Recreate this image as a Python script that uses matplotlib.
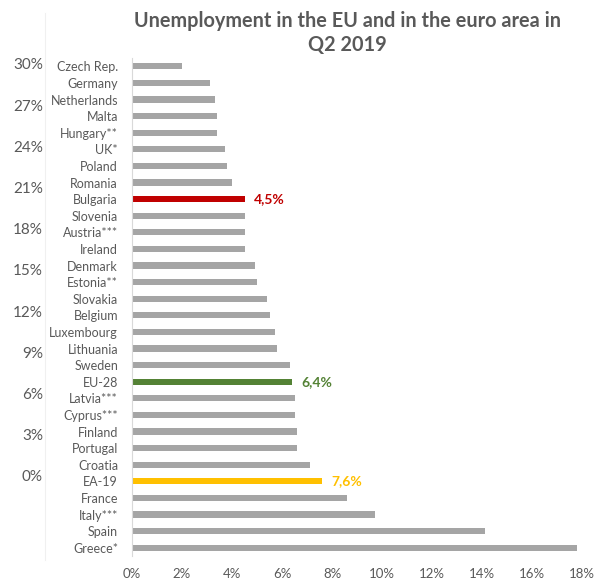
import matplotlib
matplotlib.use("Agg")
import matplotlib.pyplot as plt
from matplotlib.ticker import FuncFormatter, MultipleLocator

plt.rcParams['font.family'] = ['Lato', 'DejaVu Sans']

countries = ["Czech Rep.", "Germany", "Netherlands", "Malta", "Hungary**", "UK*",
             "Poland", "Romania", "Bulgaria", "Slovenia", "Austria***", "Ireland",
             "Denmark", "Estonia**", "Slovakia", "Belgium", "Luxembourg", "Lithuania",
             "Sweden", "EU-28", "Latvia***", "Cyprus***", "Finland", "Portugal",
             "Croatia", "EA-19", "France", "Italy***", "Spain", "Greece*"]
rates = [2.0, 3.1, 3.3, 3.4, 3.4, 3.7, 3.8, 4.0, 4.5, 4.5, 4.5, 4.5, 4.9, 5.0,
         5.4, 5.5, 5.7, 5.8, 6.3, 6.4, 6.5, 6.5, 6.6, 6.6, 7.1, 7.6, 8.6, 9.7,
         14.1, 17.8]
highlight = {"Bulgaria": "#C00000", "EU-28": "#548235", "EA-19": "#FFC000"}
bar_grey = "#A5A5A5"
text_grey = "#595959"

W, H = 597, 582
fig = plt.figure(figsize=(W / 100, H / 100), dpi=100)

def box(x0, y0, x1, y1):
    return [x0 / W, 1 - y1 / H, (x1 - x0) / W, (y1 - y0) / H]

# main bar chart
ax = fig.add_axes(box(132, 58, 582, 556))
n = len(countries)
ypos = list(range(n))
colors = [highlight.get(c, bar_grey) for c in countries]
ax.barh(ypos, rates, height=0.38, color=colors)
ax.set_ylim(n - 0.5, -0.5)
ax.set_xlim(0, 18)
ax.set_yticks(ypos)
ax.set_yticklabels(countries, fontsize=9, color=text_grey)
ax.xaxis.set_major_locator(MultipleLocator(2))
ax.xaxis.set_major_formatter(FuncFormatter(lambda v, p: f"{v:.0f}%"))
ax.tick_params(axis='x', length=0, labelsize=9.5, labelcolor=text_grey, pad=9)
ax.tick_params(axis='y', length=0, pad=10)
for s in ("top", "right", "bottom"):
    ax.spines[s].set_visible(False)
ax.spines["left"].set_color("#D9D9D9")
ax.spines["left"].set_linewidth(0.8)

for c, v in zip(countries, rates):
    if c in highlight:
        ax.annotate(f"{v:.1f}%".replace(".", ","), (v, countries.index(c)),
                    xytext=(6.5, 0), textcoords="offset points", va="center",
                    ha="left", fontsize=10, fontweight="bold", color=highlight[c])

# secondary percentage scale on the left
ax2 = fig.add_axes(box(45, 13, 46, 560))
ax2.set_ylim(-6.12, 33.7)
ax2.set_yticks(range(0, 31, 3))
ax2.yaxis.set_major_formatter(FuncFormatter(lambda v, p: f"{v:.0f}%"))
ax2.tick_params(axis='y', length=0, labelsize=11, labelcolor=text_grey, pad=1.5)
ax2.set_xticks([])
for s in ("top", "right", "bottom"):
    ax2.spines[s].set_visible(False)
ax2.spines["left"].set_color("#F0F0F0")
ax2.spines["left"].set_linewidth(0.8)
ax2.patch.set_alpha(0)

fig.text(347 / W, 1 - 33 / H,
         "Unemployment in the EU and in the euro area in\nQ2 2019",
         ha="center", va="center", fontsize=14.3, fontweight="bold",
         color=text_grey, linespacing=1.3)

fig.savefig("out.png", dpi=100)
